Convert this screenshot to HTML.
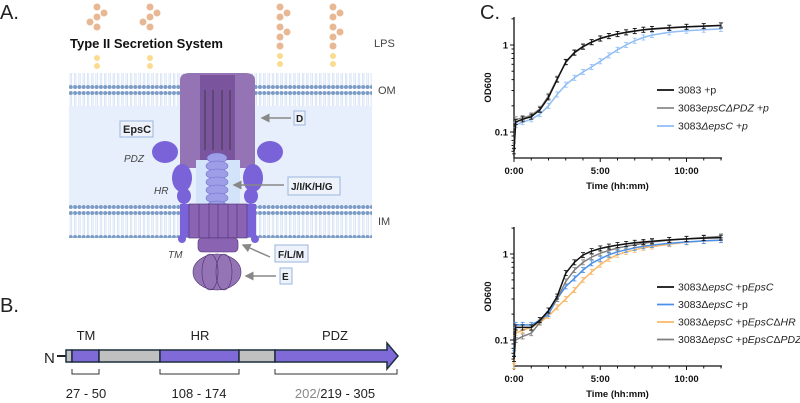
<!DOCTYPE html>
<html><head><meta charset="utf-8"><style>
html,body{margin:0;padding:0;background:#fff;}
svg{display:block;font-family:"Liberation Sans",sans-serif;}
</style></head><body>
<svg width="800" height="403" viewBox="0 0 800 403" xmlns="http://www.w3.org/2000/svg">
<defs>
<pattern id="lip" width="4.3" height="30" patternUnits="userSpaceOnUse">
<circle cx="2" cy="3" r="2" fill="#7b9cc7"/>
<circle cx="2" cy="27" r="2" fill="#7b9cc7"/>
<line x1="1.3" y1="5" x2="1.3" y2="25" stroke="#c9daf2" stroke-width="0.7"/>
<line x1="2.8" y1="5" x2="2.8" y2="25" stroke="#c9daf2" stroke-width="0.7"/>
</pattern>
<marker id="ah" markerWidth="6" markerHeight="6" refX="1" refY="3" orient="auto"><path d="M6 0 L0 3 L6 6 Z" fill="#888"/></marker>
</defs>
<g>
<text x="0" y="19" font-size="20" fill="#222">A.</text>
<rect x="69" y="73" width="303" height="164" fill="#e6effb"/>
<rect x="69" y="73" width="303" height="33" fill="#fff"/>
<rect x="69" y="73" width="303" height="33" fill="url(#lip)"/>
<rect x="69" y="205" width="303" height="33" fill="#fff"/>
<rect x="69" y="205" width="303" height="33" fill="url(#lip)"/>
<g fill="#e8b894">
<circle cx="97" cy="7" r="3.5"/><circle cx="97" cy="17" r="3.5"/><circle cx="104" cy="13" r="3.5"/><circle cx="97" cy="27" r="3.5"/><circle cx="90" cy="22" r="3.5"/>
<circle cx="150" cy="7" r="3.5"/><circle cx="150" cy="17" r="3.5"/><circle cx="157" cy="13" r="3.5"/><circle cx="150" cy="27" r="3.5"/><circle cx="143" cy="22" r="3.5"/>
<circle cx="280" cy="7" r="3.5"/><circle cx="280" cy="17" r="3.5"/><circle cx="287" cy="13" r="3.5"/><circle cx="280" cy="27" r="3.5"/><circle cx="280" cy="37" r="3.5"/><circle cx="287" cy="32" r="3.5"/><circle cx="280" cy="46" r="3.5"/>
<circle cx="333" cy="7" r="3.5"/><circle cx="333" cy="17" r="3.5"/><circle cx="340" cy="13" r="3.5"/><circle cx="333" cy="27" r="3.5"/><circle cx="333" cy="37" r="3.5"/><circle cx="340" cy="32" r="3.5"/><circle cx="333" cy="46" r="3.5"/>
<g fill="#fbdc8f"><circle cx="97" cy="58" r="3"/><circle cx="97" cy="66" r="3"/><circle cx="150" cy="58" r="3"/><circle cx="150" cy="66" r="3"/><circle cx="280" cy="56" r="3"/><circle cx="280" cy="64" r="3"/><circle cx="333" cy="56" r="3"/><circle cx="333" cy="64" r="3"/></g>
</g>
<text x="70" y="48" font-size="13" font-weight="bold" fill="#111">Type II Secretion System</text>
<text x="374" y="47" font-size="11" fill="#444">LPS</text>
<text x="378" y="94" font-size="11" fill="#444">OM</text>
<text x="378" y="225" font-size="11" fill="#444">IM</text>
<g>
<path d="M180 80 Q180 73 190 73 L245 73 Q255 73 255 80 L255 168 L237 168 L237 160 L198 160 L198 168 L180 168 Z" fill="#9474b5"/>
<rect x="200" y="75" width="35" height="85" fill="#7a559e"/>
<line x1="205" y1="90" x2="205" y2="150" stroke="#333" stroke-width="0.8"/><line x1="213" y1="90" x2="213" y2="150" stroke="#333" stroke-width="0.8"/><line x1="222" y1="90" x2="222" y2="150" stroke="#333" stroke-width="0.8"/><line x1="230" y1="90" x2="230" y2="150" stroke="#333" stroke-width="0.8"/>
</g>
<rect x="196" y="160" width="44" height="45" fill="#d3e3fa"/>
<g fill="#9e9ee8" stroke="#6b6bc9" stroke-width="0.6">
<ellipse cx="217" cy="158" rx="10" ry="5"/><ellipse cx="217" cy="166" rx="11" ry="5"/><ellipse cx="217" cy="174" rx="11" ry="5"/><ellipse cx="217" cy="182" rx="11" ry="5"/><ellipse cx="217" cy="190" rx="11" ry="5"/><ellipse cx="217" cy="198" rx="11" ry="5"/><ellipse cx="217" cy="206" rx="10" ry="5"/>
</g>
<g fill="#7a62d9">
<ellipse cx="165" cy="152" rx="13" ry="11"/><ellipse cx="182" cy="178" rx="10" ry="14"/><ellipse cx="184" cy="196" rx="7" ry="8"/>
<ellipse cx="270" cy="152" rx="13" ry="11"/><ellipse cx="253" cy="178" rx="10" ry="14"/><ellipse cx="251" cy="196" rx="7" ry="8"/>
<rect x="180" y="204" width="9" height="33"/><rect x="247" y="204" width="9" height="33"/>
<circle cx="182" cy="239" r="4"/><circle cx="255" cy="239" r="4"/>
</g>
<g fill="#8a64b3" stroke="#4b2f6e" stroke-width="0.6">
<rect x="189" y="204" width="58" height="34"/>
<line x1="199" y1="204" x2="199" y2="238"/><line x1="209" y1="204" x2="209" y2="238"/><line x1="218" y1="204" x2="218" y2="238"/><line x1="228" y1="204" x2="228" y2="238"/><line x1="237" y1="204" x2="237" y2="238"/>
<rect x="198" y="238" width="40" height="14" rx="4"/>
<ellipse cx="217" cy="272" rx="24" ry="18" fill="#9474b5"/>
<ellipse cx="210" cy="272" rx="8" ry="18" fill="none"/><ellipse cx="224" cy="272" rx="8" ry="18" fill="none"/>
</g>
<g font-size="10" fill="#222">
<line x1="262" y1="118" x2="291" y2="118" stroke="#888" stroke-width="1.5" marker-start="url(#ah)"/>
<rect x="294" y="111" width="11" height="14" fill="#eef3fb" stroke="#9bb5de"/><text x="296" y="122" font-weight="bold">D</text>
<rect x="120" y="121" width="33" height="16" fill="#eef3fb" stroke="#9bb5de"/><text x="123" y="133" font-weight="bold" font-size="11">EpsC</text>
<text x="124" y="162" font-style="italic" fill="#444">PDZ</text>
<text x="154" y="194" font-style="italic" fill="#444">HR</text>
<line x1="234" y1="185" x2="284" y2="185" stroke="#888" stroke-width="1.5" marker-start="url(#ah)"/>
<rect x="288" y="177" width="52" height="18" fill="#eef3fb" stroke="#9bb5de"/><text x="291" y="190" font-weight="bold">J/I/K/H/G</text>
<text x="168" y="258" font-style="italic" fill="#444">TM</text>
<line x1="243" y1="245" x2="270" y2="257" stroke="#888" stroke-width="1.5" marker-start="url(#ah)"/>
<rect x="275" y="245" width="33" height="17" fill="#eef3fb" stroke="#9bb5de"/><text x="278" y="258" font-weight="bold">F/L/M</text>
<line x1="246" y1="276" x2="276" y2="276" stroke="#888" stroke-width="1.5" marker-start="url(#ah)"/>
<rect x="280" y="268" width="12" height="16" fill="#eef3fb" stroke="#9bb5de"/><text x="282" y="280" font-weight="bold">E</text>
</g>
</g>
<g>
<text x="0" y="312" font-size="20" fill="#222">B.</text>
<text x="44" y="363" font-size="15" fill="#222">N</text>
<line x1="57" y1="356" x2="66" y2="356" stroke="#222" stroke-width="2"/>
<g stroke="#1c2f3e" stroke-width="1.5">
<rect x="66" y="350" width="6" height="12" fill="#c0c0c0"/>
<rect x="72" y="350" width="27" height="12" fill="#7f6ad8"/>
<rect x="99" y="350" width="61" height="12" fill="#c0c0c0"/>
<rect x="160" y="350" width="79" height="12" fill="#7f6ad8"/>
<rect x="239" y="350" width="36" height="12" fill="#c0c0c0"/>
<path d="M275 350 L387 350 L387 343 L398 356 L387 369 L387 362 L275 362 Z" fill="#7f6ad8"/>
</g>
<text x="86" y="340" font-size="13" text-anchor="middle" fill="#222">TM</text>
<text x="200" y="340" font-size="13" text-anchor="middle" fill="#222">HR</text>
<text x="335" y="340" font-size="13" text-anchor="middle" fill="#222">PDZ</text>
<g stroke="#333" fill="none" stroke-width="1">
<path d="M72 369 L72 374 L99 374 L99 369"/><path d="M160 369 L160 374 L239 374 L239 369"/><path d="M275 369 L275 374 L397 374 L397 369"/>
</g>
<text x="86" y="398" font-size="13" text-anchor="middle" fill="#222">27 - 50</text>
<text x="199" y="398" font-size="13" text-anchor="middle" fill="#222">108 - 174</text>
<text x="335" y="398" font-size="13" text-anchor="middle" fill="#222"><tspan fill="#888">202/</tspan>219 - 305</text>
</g>
<text x="480" y="19" font-size="20" fill="#222">C.</text>
<g id="charts"></g>
</svg>
<script>
const times=[0,0.1,0.5,1,1.5,2,2.5,3,3.5,4,4.5,5,5.5,6,6.5,7,7.5,8,9,10,11,12];
const xTickLabels=["0:00","5:00","10:00"];
const xTickHours=[0,5,10];
const yTickValues=[0.1,1];
const yTickLabels=["0.1","1"];
const topBlack=[0.06,0.13,0.14,0.15,0.18,0.25,0.4,0.64,0.82,0.96,1.08,1.19,1.27,1.34,1.4,1.45,1.5,1.53,1.58,1.62,1.65,1.68];
const topGrey=[0.07,0.14,0.145,0.155,0.185,0.26,0.41,0.63,0.81,0.95,1.07,1.18,1.26,1.33,1.39,1.44,1.49,1.52,1.57,1.61,1.64,1.67];
const topBlue=[0.07,0.12,0.13,0.14,0.16,0.2,0.27,0.35,0.42,0.49,0.56,0.65,0.76,0.88,1.0,1.12,1.22,1.3,1.4,1.46,1.5,1.53];
const botBlack=[0.06,0.14,0.14,0.14,0.17,0.22,0.32,0.6,0.8,0.97,1.08,1.16,1.22,1.27,1.31,1.35,1.38,1.41,1.46,1.5,1.53,1.55];
const botBlue=[0.07,0.15,0.15,0.15,0.17,0.2,0.3,0.42,0.52,0.65,0.78,0.88,0.98,1.06,1.12,1.18,1.23,1.27,1.33,1.38,1.42,1.45];
const botOrange=[0.05,0.12,0.13,0.14,0.16,0.19,0.24,0.3,0.38,0.5,0.62,0.75,0.88,0.98,1.06,1.12,1.18,1.22,1.3,1.37,1.42,1.45];
const botGrey=[0.06,0.1,0.11,0.12,0.16,0.22,0.3,0.48,0.65,0.8,0.92,1.02,1.1,1.17,1.23,1.28,1.33,1.38,1.45,1.5,1.55,1.6];
const topLegend=["3083 +p","3083<i>epsCΔPDZ +p</i>","3083<i>ΔepsC +p</i>"];
const botLegend=["3083Δ<i>epsC</i> +p<i>EpsC</i>","3083Δ<i>epsC</i> +p","3083Δ<i>epsC</i> +p<i>EpsC</i>Δ<i>HR</i>","3083Δ<i>epsC</i> +p<i>EpsC</i>Δ<i>PDZ</i>"];

const NS="http://www.w3.org/2000/svg";
const root=document.getElementById('charts');
function mk(tag,attrs,parent){const e=document.createElementNS(NS,tag);for(const k in attrs)e.setAttribute(k,attrs[k]);(parent||root).appendChild(e);return e;}
function fmtLegend(s){return s.replace(/<i>/g,'<tspan font-style="italic">').replace(/<\/i>/g,'</tspan>');}

function chart(name,cfg,series,legend){
  const g=mk('g',{});
  
  
  const x=h=>cfg.x0+h*cfg.px;
  const y=v=>cfg.y1-Math.log10(v)*cfg.dec;
  const ax=mk('path',{d:`M${cfg.x0} ${cfg.top} L${cfg.x0} ${cfg.bot} L${cfg.xEnd} ${cfg.bot}`,stroke:'#111','stroke-width':1.3,fill:'none'},g);
  
  
  for(let h=0;h<=12;h++){const big=h%5===0;mk('line',{x1:x(h),x2:x(h),y1:cfg.bot,y2:cfg.bot+(big?4:2.5),stroke:'#111','stroke-width':1},g);}
  xTickHours.forEach((h,i)=>{const t=mk('text',{x:x(h),y:cfg.bot+16,'font-size':9.5,'font-weight':'bold','text-anchor':'middle',fill:'#111'},g);t.textContent=xTickLabels[i];
    
    });
  const minors=[0.06,0.07,0.08,0.09,0.2,0.3,0.4,0.5,0.6,0.7,0.8,0.9,2];
  minors.forEach(v=>{const yy=y(v);if(yy>=cfg.top&&yy<=cfg.bot)mk('line',{x1:cfg.x0-2.5,x2:cfg.x0,y1:yy,y2:yy,stroke:'#111','stroke-width':1},g);});
  yTickValues.forEach((v,i)=>{mk('line',{x1:cfg.x0-4,x2:cfg.x0,y1:y(v),y2:y(v),stroke:'#111','stroke-width':1},g);
    const t=mk('text',{x:cfg.x0-6,y:y(v)+3.5,'font-size':9.5,'font-weight':'bold','text-anchor':'end',fill:'#111'},g);t.textContent=yTickLabels[i];
    
    });
  const xt=mk('text',{x:x(6),y:cfg.bot+31,'font-size':9.5,'font-weight':'bold','text-anchor':'middle',fill:'#111'},g);xt.textContent='Time (hh:mm)';
  
  
  const yc=(cfg.top+cfg.bot)/2;
  const yt=mk('text',{x:491,y:yc,'font-size':9.5,'font-weight':'bold','text-anchor':'middle',fill:'#111',transform:`rotate(-90 491 ${yc})`},g);yt.textContent='OD600';
  
  
  series.forEach((s,si)=>{
    const sg=mk('g',{},g);
    
    
    let d='';
    s.vals.forEach((v,i)=>{const px=x(times[i]),py=y(v);d+=(i?'L':'M')+px.toFixed(1)+' '+py.toFixed(1);
      const e1=y(v*1.07),e2=y(v/1.07);
      mk('line',{x1:px,x2:px,y1:e1,y2:e2,stroke:s.c,'stroke-width':0.8},sg);
      mk('line',{x1:px-2,x2:px+2,y1:e1,y2:e1,stroke:s.c,'stroke-width':0.8},sg);
      mk('line',{x1:px-2,x2:px+2,y1:e2,y2:e2,stroke:s.c,'stroke-width':0.8},sg);});
    mk('path',{d:d,stroke:s.c,'stroke-width':1.5,fill:'none','stroke-linejoin':'round'},sg);
  });
  legend.forEach((lab,i)=>{
    const ly=cfg.legY+i*cfg.legDy;
    const lg=mk('g',{},g);
    
    
    mk('line',{x1:cfg.legX,x2:cfg.legX+17,y1:ly,y2:ly,stroke:series[cfg.legOrder[i]].c,'stroke-width':1.8},lg);
    const t=mk('text',{x:cfg.legX+21,y:ly+3.5,'font-size':10.5,fill:'#222'},lg);
    t.innerHTML=fmtLegend(lab);
  });
}
chart('growth-chart-top',{x0:514,px:17.25,xEnd:722,top:17,bot:158,y1:45,dec:87,legX:657,legY:90,legDy:18,legOrder:[2,1,0]},
  [{id:'blue',vals:topBlue,c:'#8fbdf4'},{id:'grey',vals:topGrey,c:'#8a8a8a'},{id:'black',vals:topBlack,c:'#111'}],topLegend);
chart('growth-chart-bottom',{x0:514,px:17.25,xEnd:722,top:227,bot:366,y1:254,dec:86,legX:657,legY:287,legDy:17.5,legOrder:[3,1,0,2]},
  [{id:'orange',vals:botOrange,c:'#f7b96a'},{id:'blue',vals:botBlue,c:'#4a90e8'},{id:'grey',vals:botGrey,c:'#7e7e7e'},{id:'black',vals:botBlack,c:'#111'}],botLegend);
</script>
</body></html>
